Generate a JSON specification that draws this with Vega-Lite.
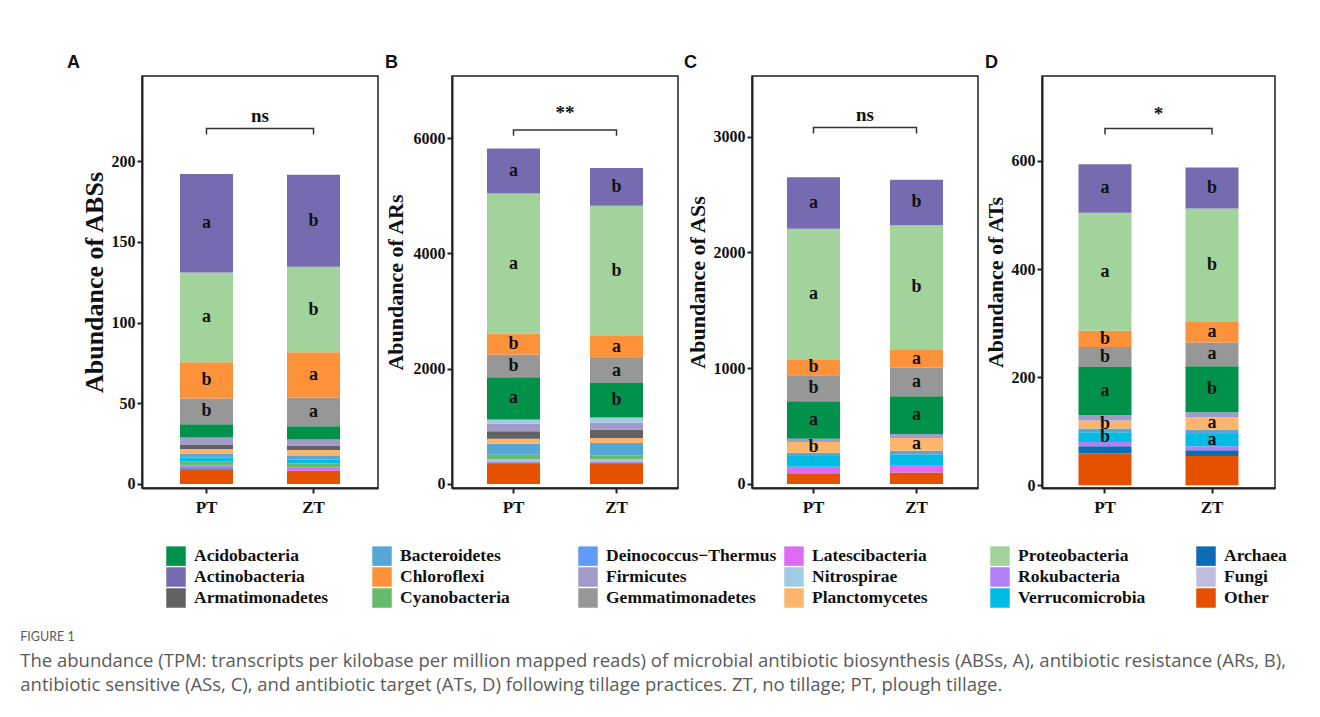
{
  "$schema": "https://vega.github.io/schema/vega-lite/v6.json",
  "background": "white",
  "padding": {"left": 20, "top": 53, "right": 5, "bottom": 5},
  "datasets": {
    "bars": [
      {"p": "A", "t": "PT", "taxon": "Other", "v": 9.1, "lab": "", "k": 1},
      {"p": "A", "t": "PT", "taxon": "Archaea", "v": 0.6, "lab": "", "k": 2},
      {"p": "A", "t": "PT", "taxon": "Rokubacteria", "v": 1.8, "lab": "", "k": 4},
      {"p": "A", "t": "PT", "taxon": "Cyanobacteria", "v": 2.3, "lab": "", "k": 6},
      {"p": "A", "t": "PT", "taxon": "Verrucomicrobia", "v": 2.6, "lab": "", "k": 7},
      {"p": "A", "t": "PT", "taxon": "Bacteroidetes", "v": 2.5, "lab": "", "k": 9},
      {"p": "A", "t": "PT", "taxon": "Planctomycetes", "v": 2.7, "lab": "", "k": 10},
      {"p": "A", "t": "PT", "taxon": "Armatimonadetes", "v": 2.9, "lab": "", "k": 11},
      {"p": "A", "t": "PT", "taxon": "Firmicutes", "v": 4.3, "lab": "", "k": 12},
      {"p": "A", "t": "PT", "taxon": "Acidobacteria", "v": 8.2, "lab": "", "k": 14},
      {"p": "A", "t": "PT", "taxon": "Gemmatimonadetes", "v": 15.9, "lab": "b", "k": 15},
      {"p": "A", "t": "PT", "taxon": "Chloroflexi", "v": 22.5, "lab": "b", "k": 16},
      {"p": "A", "t": "PT", "taxon": "Proteobacteria", "v": 55.6, "lab": "a", "k": 17},
      {"p": "A", "t": "PT", "taxon": "Actinobacteria", "v": 61, "lab": "a", "k": 18},
      {"p": "A", "t": "ZT", "taxon": "Other", "v": 8.2, "lab": "", "k": 1},
      {"p": "A", "t": "ZT", "taxon": "Latescibacteria", "v": 2.1, "lab": "", "k": 3},
      {"p": "A", "t": "ZT", "taxon": "Cyanobacteria", "v": 2.5, "lab": "", "k": 6},
      {"p": "A", "t": "ZT", "taxon": "Verrucomicrobia", "v": 2.4, "lab": "", "k": 7},
      {"p": "A", "t": "ZT", "taxon": "Bacteroidetes", "v": 2.1, "lab": "", "k": 9},
      {"p": "A", "t": "ZT", "taxon": "Planctomycetes", "v": 3.7, "lab": "", "k": 10},
      {"p": "A", "t": "ZT", "taxon": "Armatimonadetes", "v": 2.9, "lab": "", "k": 11},
      {"p": "A", "t": "ZT", "taxon": "Firmicutes", "v": 3.7, "lab": "", "k": 12},
      {"p": "A", "t": "ZT", "taxon": "Acidobacteria", "v": 8.2, "lab": "", "k": 14},
      {"p": "A", "t": "ZT", "taxon": "Gemmatimonadetes", "v": 17.7, "lab": "a", "k": 15},
      {"p": "A", "t": "ZT", "taxon": "Chloroflexi", "v": 28.1, "lab": "a", "k": 16},
      {"p": "A", "t": "ZT", "taxon": "Proteobacteria", "v": 53, "lab": "b", "k": 17},
      {"p": "A", "t": "ZT", "taxon": "Actinobacteria", "v": 57, "lab": "b", "k": 18},
      {"p": "B", "t": "PT", "taxon": "Other", "v": 358, "lab": "", "k": 1},
      {"p": "B", "t": "PT", "taxon": "Archaea", "v": 15, "lab": "", "k": 2},
      {"p": "B", "t": "PT", "taxon": "Rokubacteria", "v": 20, "lab": "", "k": 4},
      {"p": "B", "t": "PT", "taxon": "Fungi", "v": 35, "lab": "", "k": 5},
      {"p": "B", "t": "PT", "taxon": "Cyanobacteria", "v": 80, "lab": "", "k": 6},
      {"p": "B", "t": "PT", "taxon": "Bacteroidetes", "v": 190, "lab": "", "k": 9},
      {"p": "B", "t": "PT", "taxon": "Planctomycetes", "v": 88, "lab": "", "k": 10},
      {"p": "B", "t": "PT", "taxon": "Armatimonadetes", "v": 128, "lab": "", "k": 11},
      {"p": "B", "t": "PT", "taxon": "Firmicutes", "v": 131, "lab": "", "k": 12},
      {"p": "B", "t": "PT", "taxon": "Nitrospirae", "v": 75, "lab": "", "k": 13},
      {"p": "B", "t": "PT", "taxon": "Acidobacteria", "v": 733, "lab": "a", "k": 14},
      {"p": "B", "t": "PT", "taxon": "Gemmatimonadetes", "v": 392, "lab": "b", "k": 15},
      {"p": "B", "t": "PT", "taxon": "Chloroflexi", "v": 360, "lab": "b", "k": 16},
      {"p": "B", "t": "PT", "taxon": "Proteobacteria", "v": 2435, "lab": "a", "k": 17},
      {"p": "B", "t": "PT", "taxon": "Actinobacteria", "v": 780, "lab": "a", "k": 18},
      {"p": "B", "t": "ZT", "taxon": "Other", "v": 358, "lab": "", "k": 1},
      {"p": "B", "t": "ZT", "taxon": "Archaea", "v": 15, "lab": "", "k": 2},
      {"p": "B", "t": "ZT", "taxon": "Rokubacteria", "v": 20, "lab": "", "k": 4},
      {"p": "B", "t": "ZT", "taxon": "Fungi", "v": 35, "lab": "", "k": 5},
      {"p": "B", "t": "ZT", "taxon": "Cyanobacteria", "v": 69, "lab": "", "k": 6},
      {"p": "B", "t": "ZT", "taxon": "Bacteroidetes", "v": 213, "lab": "", "k": 9},
      {"p": "B", "t": "ZT", "taxon": "Planctomycetes", "v": 87, "lab": "", "k": 10},
      {"p": "B", "t": "ZT", "taxon": "Armatimonadetes", "v": 143, "lab": "", "k": 11},
      {"p": "B", "t": "ZT", "taxon": "Firmicutes", "v": 122, "lab": "", "k": 12},
      {"p": "B", "t": "ZT", "taxon": "Nitrospirae", "v": 90, "lab": "", "k": 13},
      {"p": "B", "t": "ZT", "taxon": "Acidobacteria", "v": 600, "lab": "b", "k": 14},
      {"p": "B", "t": "ZT", "taxon": "Gemmatimonadetes", "v": 432, "lab": "a", "k": 15},
      {"p": "B", "t": "ZT", "taxon": "Chloroflexi", "v": 386, "lab": "a", "k": 16},
      {"p": "B", "t": "ZT", "taxon": "Proteobacteria", "v": 2260, "lab": "b", "k": 17},
      {"p": "B", "t": "ZT", "taxon": "Actinobacteria", "v": 655, "lab": "b", "k": 18},
      {"p": "C", "t": "PT", "taxon": "Other", "v": 87, "lab": "", "k": 1},
      {"p": "C", "t": "PT", "taxon": "Latescibacteria", "v": 61, "lab": "", "k": 3},
      {"p": "C", "t": "PT", "taxon": "Verrucomicrobia", "v": 93, "lab": "", "k": 7},
      {"p": "C", "t": "PT", "taxon": "Bacteroidetes", "v": 28, "lab": "", "k": 9},
      {"p": "C", "t": "PT", "taxon": "Planctomycetes", "v": 93, "lab": "b", "k": 10},
      {"p": "C", "t": "PT", "taxon": "Firmicutes", "v": 28, "lab": "", "k": 12},
      {"p": "C", "t": "PT", "taxon": "Acidobacteria", "v": 325, "lab": "a", "k": 14},
      {"p": "C", "t": "PT", "taxon": "Gemmatimonadetes", "v": 225, "lab": "b", "k": 15},
      {"p": "C", "t": "PT", "taxon": "Chloroflexi", "v": 138, "lab": "b", "k": 16},
      {"p": "C", "t": "PT", "taxon": "Proteobacteria", "v": 1128, "lab": "a", "k": 17},
      {"p": "C", "t": "PT", "taxon": "Actinobacteria", "v": 444, "lab": "a", "k": 18},
      {"p": "C", "t": "ZT", "taxon": "Other", "v": 99, "lab": "", "k": 1},
      {"p": "C", "t": "ZT", "taxon": "Latescibacteria", "v": 58, "lab": "", "k": 3},
      {"p": "C", "t": "ZT", "taxon": "Verrucomicrobia", "v": 95, "lab": "", "k": 7},
      {"p": "C", "t": "ZT", "taxon": "Bacteroidetes", "v": 35, "lab": "", "k": 9},
      {"p": "C", "t": "ZT", "taxon": "Planctomycetes", "v": 110, "lab": "a", "k": 10},
      {"p": "C", "t": "ZT", "taxon": "Firmicutes", "v": 35, "lab": "", "k": 12},
      {"p": "C", "t": "ZT", "taxon": "Acidobacteria", "v": 325, "lab": "a", "k": 14},
      {"p": "C", "t": "ZT", "taxon": "Gemmatimonadetes", "v": 246, "lab": "a", "k": 15},
      {"p": "C", "t": "ZT", "taxon": "Chloroflexi", "v": 160, "lab": "a", "k": 16},
      {"p": "C", "t": "ZT", "taxon": "Proteobacteria", "v": 1072, "lab": "b", "k": 17},
      {"p": "C", "t": "ZT", "taxon": "Actinobacteria", "v": 394, "lab": "b", "k": 18},
      {"p": "D", "t": "PT", "taxon": "Other", "v": 59, "lab": "", "k": 1},
      {"p": "D", "t": "PT", "taxon": "Archaea", "v": 13, "lab": "", "k": 2},
      {"p": "D", "t": "PT", "taxon": "Rokubacteria", "v": 8, "lab": "", "k": 4},
      {"p": "D", "t": "PT", "taxon": "Verrucomicrobia", "v": 18, "lab": "b", "k": 7},
      {"p": "D", "t": "PT", "taxon": "Bacteroidetes", "v": 7, "lab": "", "k": 9},
      {"p": "D", "t": "PT", "taxon": "Planctomycetes", "v": 15, "lab": "b", "k": 10},
      {"p": "D", "t": "PT", "taxon": "Firmicutes", "v": 10, "lab": "", "k": 12},
      {"p": "D", "t": "PT", "taxon": "Acidobacteria", "v": 89, "lab": "a", "k": 14},
      {"p": "D", "t": "PT", "taxon": "Gemmatimonadetes", "v": 37, "lab": "b", "k": 15},
      {"p": "D", "t": "PT", "taxon": "Chloroflexi", "v": 30, "lab": "b", "k": 16},
      {"p": "D", "t": "PT", "taxon": "Proteobacteria", "v": 218, "lab": "a", "k": 17},
      {"p": "D", "t": "PT", "taxon": "Actinobacteria", "v": 90, "lab": "a", "k": 18},
      {"p": "D", "t": "ZT", "taxon": "Other", "v": 54, "lab": "", "k": 1},
      {"p": "D", "t": "ZT", "taxon": "Archaea", "v": 11, "lab": "", "k": 2},
      {"p": "D", "t": "ZT", "taxon": "Rokubacteria", "v": 7, "lab": "", "k": 4},
      {"p": "D", "t": "ZT", "taxon": "Verrucomicrobia", "v": 23, "lab": "a", "k": 7},
      {"p": "D", "t": "ZT", "taxon": "Bacteroidetes", "v": 8, "lab": "", "k": 9},
      {"p": "D", "t": "ZT", "taxon": "Planctomycetes", "v": 23, "lab": "a", "k": 10},
      {"p": "D", "t": "ZT", "taxon": "Firmicutes", "v": 9, "lab": "", "k": 12},
      {"p": "D", "t": "ZT", "taxon": "Acidobacteria", "v": 85, "lab": "b", "k": 14},
      {"p": "D", "t": "ZT", "taxon": "Gemmatimonadetes", "v": 44, "lab": "a", "k": 15},
      {"p": "D", "t": "ZT", "taxon": "Chloroflexi", "v": 38, "lab": "a", "k": 16},
      {"p": "D", "t": "ZT", "taxon": "Proteobacteria", "v": 210, "lab": "b", "k": 17},
      {"p": "D", "t": "ZT", "taxon": "Actinobacteria", "v": 76, "lab": "b", "k": 18}
    ],
    "brk": [
      {"p": "A", "t": "PT", "by": 216.6, "i": 1}, {"p": "A", "t": "PT", "by": 220.2, "i": 2}, {"p": "A", "t": "ZT", "by": 220.2, "i": 3}, {"p": "A", "t": "ZT", "by": 216.6, "i": 4},
      {"p": "B", "t": "PT", "by": 6041, "i": 1}, {"p": "B", "t": "PT", "by": 6145, "i": 2}, {"p": "B", "t": "ZT", "by": 6145, "i": 3}, {"p": "B", "t": "ZT", "by": 6041, "i": 4},
      {"p": "C", "t": "PT", "by": 3028, "i": 1}, {"p": "C", "t": "PT", "by": 3080, "i": 2}, {"p": "C", "t": "ZT", "by": 3080, "i": 3}, {"p": "C", "t": "ZT", "by": 3028, "i": 4},
      {"p": "D", "t": "PT", "by": 649, "i": 1}, {"p": "D", "t": "PT", "by": 660, "i": 2}, {"p": "D", "t": "ZT", "by": 660, "i": 3}, {"p": "D", "t": "ZT", "by": 649, "i": 4}
    ],
    "sig": [
      {"p": "A", "t": "PT", "s": "ns", "sy": 228},
      {"p": "B", "t": "PT", "s": "**", "sy": 6445},
      {"p": "C", "t": "PT", "s": "ns", "sy": 3185},
      {"p": "D", "t": "PT", "s": "*", "sy": 686}
    ]
  },
  "title": {
    "text": "FIGURE 1",
    "subtitle": [
      "The abundance (TPM: transcripts per kilobase per million mapped reads) of microbial antibiotic biosynthesis (ABSs, A), antibiotic resistance (ARs, B),",
      "antibiotic sensitive (ASs, C), and antibiotic target (ATs, D) following tillage practices. ZT, no tillage; PT, plough tillage."
    ],
    "orient": "bottom",
    "anchor": "start",
    "frame": "bounds",
    "dx": -46,
    "offset": 23,
    "font": "Lato",
    "fontSize": 12.5,
    "fontWeight": "normal",
    "color": "#5a5a5a",
    "subtitleFont": "Open Sans",
    "subtitleFontSize": 18.5,
    "subtitleColor": "#5a5a5a",
    "subtitleLineHeight": 24,
    "subtitlePadding": 8
  },
  "spacing": 4,
  "resolve": {"scale": {"color": "shared", "y": "independent", "x": "independent"}, "legend": {"color": "shared"}},
  "hconcat": [
    {
      "title": {"text": "A", "dx": -75},
      "width": 236, "height": 412,
      "layer": [
        {"data": {"name": "bars"}, "transform": [{"filter": "datum.p == 'A'"}],
         "mark": {"type": "bar"},
         "encoding": {
           "x": {"field": "t", "type": "nominal", "scale": {"paddingInner": 0.5047, "paddingOuter": 0.3551}},
           "y": {"field": "v", "type": "quantitative", "stack": "zero", "scale": {"domain": [-2.5, 252.8], "nice": false}, "axis": {"title": "Abundance of ABSs", "values": [0, 50, 100, 150, 200], "format": "d", "titleFontSize": 26}},
           "color": {"field": "taxon", "type": "nominal",
             "scale": {"domain": ["Acidobacteria", "Actinobacteria", "Armatimonadetes", "Bacteroidetes", "Chloroflexi", "Cyanobacteria", "Deinococcus−Thermus", "Firmicutes", "Gemmatimonadetes", "Latescibacteria", "Nitrospirae", "Planctomycetes", "Proteobacteria", "Rokubacteria", "Verrucomicrobia", "Archaea", "Fungi", "Other"],
                       "range": ["#00924A", "#766BB0", "#626262", "#56A6D6", "#FD923B", "#66BA6C", "#5E9CF6", "#A09BC9", "#979797", "#DE6CF2", "#9FCBE3", "#FDB56D", "#A1D39B", "#B080F4", "#00BCE4", "#0B6EB4", "#BDBDDD", "#E65100"]},
             "legend": {"orient": "none", "legendX": 24, "legendY": 470, "columns": 6, "title": null, "symbolType": "square", "symbolSize": 380, "symbolStrokeWidth": 0, "labelFont": "Liberation Serif", "labelFontWeight": "bold", "labelFontSize": 17.5, "labelColor": "#111111", "labelOffset": 8, "rowPadding": 1, "columnPadding": 7, "gridAlign": "all", "labelLimit": 300}},
           "order": {"field": "k", "type": "quantitative"}
         }},
        {"data": {"name": "bars"}, "transform": [{"filter": "datum.p == 'A'"}],
         "mark": {"type": "text", "font": "Liberation Serif", "fontWeight": "bold", "fontSize": 18, "color": "#111111", "baseline": "middle"},
         "encoding": {
           "x": {"field": "t", "type": "nominal"},
           "y": {"field": "v", "type": "quantitative", "stack": "zero", "bandPosition": 0.5},
           "detail": {"field": "taxon"},
           "order": {"field": "k", "type": "quantitative"},
           "text": {"field": "lab"}
         }},
        {"data": {"name": "brk"}, "transform": [{"filter": "datum.p == 'A'"}],
         "mark": {"type": "line", "color": "#333333", "strokeWidth": 1.5},
         "encoding": {"x": {"field": "t", "type": "nominal"}, "y": {"field": "by", "type": "quantitative"}, "order": {"field": "i", "type": "quantitative"}}},
        {"data": {"name": "sig"}, "transform": [{"filter": "datum.p == 'A'"}],
         "mark": {"type": "text", "dx": 53.5, "font": "Liberation Serif", "fontWeight": "bold", "fontSize": 19, "color": "#111111", "baseline": "middle"},
         "encoding": {"x": {"field": "t", "type": "nominal"}, "y": {"field": "sy", "type": "quantitative"}, "text": {"field": "s"}}}
      ]
    },
    {
      "title": {"text": "B", "dx": -67},
      "width": 226, "height": 412,
      "layer": [
        {"data": {"name": "bars"}, "transform": [{"filter": "datum.p == 'B'"}],
         "mark": {"type": "bar"},
         "encoding": {
           "x": {"field": "t", "type": "nominal", "scale": {"paddingInner": 0.4854, "paddingOuter": 0.3398}},
           "y": {"field": "v", "type": "quantitative", "stack": "zero", "scale": {"domain": [-70, 7080], "nice": false}, "axis": {"title": "Abundance of ARs", "values": [0, 2000, 4000, 6000], "format": "d", "titlePadding": 6}},
           "color": {"field": "taxon", "type": "nominal",
             "scale": {"domain": ["Acidobacteria", "Actinobacteria", "Armatimonadetes", "Bacteroidetes", "Chloroflexi", "Cyanobacteria", "Deinococcus−Thermus", "Firmicutes", "Gemmatimonadetes", "Latescibacteria", "Nitrospirae", "Planctomycetes", "Proteobacteria", "Rokubacteria", "Verrucomicrobia", "Archaea", "Fungi", "Other"],
                       "range": ["#00924A", "#766BB0", "#626262", "#56A6D6", "#FD923B", "#66BA6C", "#5E9CF6", "#A09BC9", "#979797", "#DE6CF2", "#9FCBE3", "#FDB56D", "#A1D39B", "#B080F4", "#00BCE4", "#0B6EB4", "#BDBDDD", "#E65100"]},
             "legend": {"orient": "none", "legendX": 24, "legendY": 470, "columns": 6, "title": null, "symbolType": "square", "symbolSize": 380, "symbolStrokeWidth": 0, "labelFont": "Liberation Serif", "labelFontWeight": "bold", "labelFontSize": 17.5, "labelColor": "#111111", "labelOffset": 8, "rowPadding": 1, "columnPadding": 7, "gridAlign": "all", "labelLimit": 300}},
           "order": {"field": "k", "type": "quantitative"}
         }},
        {"data": {"name": "bars"}, "transform": [{"filter": "datum.p == 'B'"}],
         "mark": {"type": "text", "font": "Liberation Serif", "fontWeight": "bold", "fontSize": 18, "color": "#111111", "baseline": "middle"},
         "encoding": {
           "x": {"field": "t", "type": "nominal"},
           "y": {"field": "v", "type": "quantitative", "stack": "zero", "bandPosition": 0.5},
           "detail": {"field": "taxon"},
           "order": {"field": "k", "type": "quantitative"},
           "text": {"field": "lab"}
         }},
        {"data": {"name": "brk"}, "transform": [{"filter": "datum.p == 'B'"}],
         "mark": {"type": "line", "color": "#333333", "strokeWidth": 1.5},
         "encoding": {"x": {"field": "t", "type": "nominal"}, "y": {"field": "by", "type": "quantitative"}, "order": {"field": "i", "type": "quantitative"}}},
        {"data": {"name": "sig"}, "transform": [{"filter": "datum.p == 'B'"}],
         "mark": {"type": "text", "dx": 51.5, "font": "Liberation Serif", "fontWeight": "bold", "fontSize": 19, "color": "#111111", "baseline": "middle"},
         "encoding": {"x": {"field": "t", "type": "nominal"}, "y": {"field": "sy", "type": "quantitative"}, "text": {"field": "s"}}}
      ]
    },
    {
      "title": {"text": "C", "dx": -68},
      "width": 226, "height": 412,
      "layer": [
        {"data": {"name": "bars"}, "transform": [{"filter": "datum.p == 'C'"}],
         "mark": {"type": "bar"},
         "encoding": {
           "x": {"field": "t", "type": "nominal", "scale": {"paddingInner": 0.4854, "paddingOuter": 0.3398}},
           "y": {"field": "v", "type": "quantitative", "stack": "zero", "scale": {"domain": [-35, 3525], "nice": false}, "axis": {"title": "Abundance of ASs", "values": [0, 1000, 2000, 3000], "format": "d"}},
           "color": {"field": "taxon", "type": "nominal",
             "scale": {"domain": ["Acidobacteria", "Actinobacteria", "Armatimonadetes", "Bacteroidetes", "Chloroflexi", "Cyanobacteria", "Deinococcus−Thermus", "Firmicutes", "Gemmatimonadetes", "Latescibacteria", "Nitrospirae", "Planctomycetes", "Proteobacteria", "Rokubacteria", "Verrucomicrobia", "Archaea", "Fungi", "Other"],
                       "range": ["#00924A", "#766BB0", "#626262", "#56A6D6", "#FD923B", "#66BA6C", "#5E9CF6", "#A09BC9", "#979797", "#DE6CF2", "#9FCBE3", "#FDB56D", "#A1D39B", "#B080F4", "#00BCE4", "#0B6EB4", "#BDBDDD", "#E65100"]},
             "legend": {"orient": "none", "legendX": 24, "legendY": 470, "columns": 6, "title": null, "symbolType": "square", "symbolSize": 380, "symbolStrokeWidth": 0, "labelFont": "Liberation Serif", "labelFontWeight": "bold", "labelFontSize": 17.5, "labelColor": "#111111", "labelOffset": 8, "rowPadding": 1, "columnPadding": 7, "gridAlign": "all", "labelLimit": 300}},
           "order": {"field": "k", "type": "quantitative"}
         }},
        {"data": {"name": "bars"}, "transform": [{"filter": "datum.p == 'C'"}],
         "mark": {"type": "text", "font": "Liberation Serif", "fontWeight": "bold", "fontSize": 18, "color": "#111111", "baseline": "middle"},
         "encoding": {
           "x": {"field": "t", "type": "nominal"},
           "y": {"field": "v", "type": "quantitative", "stack": "zero", "bandPosition": 0.5},
           "detail": {"field": "taxon"},
           "order": {"field": "k", "type": "quantitative"},
           "text": {"field": "lab"}
         }},
        {"data": {"name": "brk"}, "transform": [{"filter": "datum.p == 'C'"}],
         "mark": {"type": "line", "color": "#333333", "strokeWidth": 1.5},
         "encoding": {"x": {"field": "t", "type": "nominal"}, "y": {"field": "by", "type": "quantitative"}, "order": {"field": "i", "type": "quantitative"}}},
        {"data": {"name": "sig"}, "transform": [{"filter": "datum.p == 'C'"}],
         "mark": {"type": "text", "dx": 51.5, "font": "Liberation Serif", "fontWeight": "bold", "fontSize": 19, "color": "#111111", "baseline": "middle"},
         "encoding": {"x": {"field": "t", "type": "nominal"}, "y": {"field": "sy", "type": "quantitative"}, "text": {"field": "s"}}}
      ]
    },
    {
      "title": {"text": "D", "dx": -57},
      "width": 233, "height": 412,
      "layer": [
        {"data": {"name": "bars"}, "transform": [{"filter": "datum.p == 'D'"}],
         "mark": {"type": "bar"},
         "encoding": {
           "x": {"field": "t", "type": "nominal", "scale": {"paddingInner": 0.5047, "paddingOuter": 0.3411}},
           "y": {"field": "v", "type": "quantitative", "stack": "zero", "scale": {"domain": [-5, 757], "nice": false}, "axis": {"title": "Abundance of ATs", "values": [0, 200, 400, 600], "format": "d"}},
           "color": {"field": "taxon", "type": "nominal",
             "scale": {"domain": ["Acidobacteria", "Actinobacteria", "Armatimonadetes", "Bacteroidetes", "Chloroflexi", "Cyanobacteria", "Deinococcus−Thermus", "Firmicutes", "Gemmatimonadetes", "Latescibacteria", "Nitrospirae", "Planctomycetes", "Proteobacteria", "Rokubacteria", "Verrucomicrobia", "Archaea", "Fungi", "Other"],
                       "range": ["#00924A", "#766BB0", "#626262", "#56A6D6", "#FD923B", "#66BA6C", "#5E9CF6", "#A09BC9", "#979797", "#DE6CF2", "#9FCBE3", "#FDB56D", "#A1D39B", "#B080F4", "#00BCE4", "#0B6EB4", "#BDBDDD", "#E65100"]},
             "legend": {"orient": "none", "legendX": 24, "legendY": 470, "columns": 6, "title": null, "symbolType": "square", "symbolSize": 380, "symbolStrokeWidth": 0, "labelFont": "Liberation Serif", "labelFontWeight": "bold", "labelFontSize": 17.5, "labelColor": "#111111", "labelOffset": 8, "rowPadding": 1, "columnPadding": 7, "gridAlign": "all", "labelLimit": 300}},
           "order": {"field": "k", "type": "quantitative"}
         }},
        {"data": {"name": "bars"}, "transform": [{"filter": "datum.p == 'D'"}],
         "mark": {"type": "text", "font": "Liberation Serif", "fontWeight": "bold", "fontSize": 18, "color": "#111111", "baseline": "middle"},
         "encoding": {
           "x": {"field": "t", "type": "nominal"},
           "y": {"field": "v", "type": "quantitative", "stack": "zero", "bandPosition": 0.5},
           "detail": {"field": "taxon"},
           "order": {"field": "k", "type": "quantitative"},
           "text": {"field": "lab"}
         }},
        {"data": {"name": "brk"}, "transform": [{"filter": "datum.p == 'D'"}],
         "mark": {"type": "line", "color": "#333333", "strokeWidth": 1.5},
         "encoding": {"x": {"field": "t", "type": "nominal"}, "y": {"field": "by", "type": "quantitative"}, "order": {"field": "i", "type": "quantitative"}}},
        {"data": {"name": "sig"}, "transform": [{"filter": "datum.p == 'D'"}],
         "mark": {"type": "text", "dx": 53.5, "font": "Liberation Serif", "fontWeight": "bold", "fontSize": 19, "color": "#111111", "baseline": "middle"},
         "encoding": {"x": {"field": "t", "type": "nominal"}, "y": {"field": "sy", "type": "quantitative"}, "text": {"field": "s"}}}
      ]
    }
  ],
  "config": {
    "view": {"stroke": "#222222", "strokeWidth": 1.5},
    "axis": {"labelFont": "Liberation Serif", "labelFontWeight": "bold", "labelFontSize": 16, "labelColor": "#111111", "titleFont": "Liberation Serif", "titleFontWeight": "bold", "titleColor": "#111111", "domainColor": "#222222", "domainWidth": 2, "tickColor": "#222222", "tickWidth": 2, "tickSize": 5, "grid": false},
    "axisX": {"labelAngle": 0, "labelFontSize": 17, "labelPadding": 6, "title": null},
    "axisY": {"titleFontSize": 22, "titlePadding": 4, "labelPadding": 2},
    "title": {"font": "Liberation Sans", "fontWeight": "bold", "fontSize": 18, "anchor": "start", "frame": "group", "offset": 4, "color": "#111111"}
  }
}
